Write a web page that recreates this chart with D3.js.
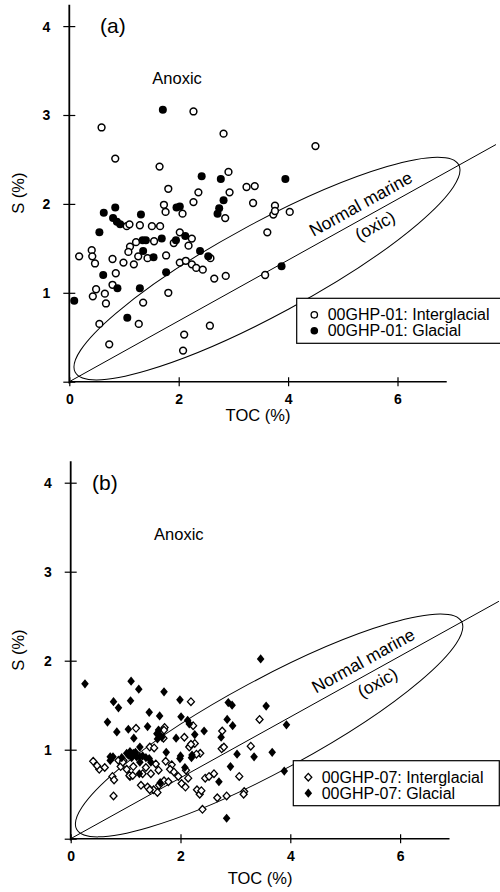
<!DOCTYPE html>
<html><head><meta charset="utf-8">
<script src="https://cdn.jsdelivr.net/npm/d3@7"></script>
<style>body{margin:0;background:#fff}svg{display:block}</style>
</head><body>
<svg id="chart" width="500" height="892"></svg>
<script>
// ---------------- data ----------------
const xTickValues = [0, 2, 4, 6];
const yTickValues = [0, 1, 2, 3, 4];
const xTickLabels = ["0", "2", "4", "6"];
const yTickLabels = ["", "1", "2", "3", "4"];
const xTitle = "TOC (%)";
const yTitle = "S (%)";
const panelNames = ["(a)", "(b)"];
const anoxicText = "Anoxic";
const oxicText = ["Normal marine", "(oxic)"];
const legendA = ["00GHP-01: Interglacial", "00GHP-01: Glacial"];
const legendB = ["00GHP-07: Interglacial", "00GHP-07: Glacial"];
// normal marine line S = ratio * TOC, and oxic ellipse tips (TOC, S)
const normalRatio = 0.342;
const ellipseTips = [[0.108, 0.106], [7.12, 2.44]];

// panel (a) 00GHP-01
const aInterglacial = [
[2.27,3.04],[0.59,2.86],[2.82,2.79],[0.84,2.51],[1.65,2.42],[2.91,2.36],[1.81,2.17],[2.36,2.13],[2.93,2.13],
[3.24,2.19],[3.39,2.20],[2.27,2.02],[1.73,1.99],[1.76,1.91],[2.07,1.89],[3.36,2.01],[3.76,1.98],[3.73,1.88],
[3.76,1.92],[4.03,1.91],[2.85,1.84],[4.50,2.65],
[1.05,1.75],[1.10,1.77],[1.29,1.76],[1.51,1.75],[1.66,1.75],[2.02,1.68],[2.24,1.61],[1.22,1.57],[1.55,1.58],
[1.11,1.52],[1.91,1.56],[2.18,1.53],[0.41,1.48],[0.42,1.41],[0.18,1.41],[1.08,1.46],[1.26,1.41],[1.43,1.39],
[1.77,1.42],[2.58,1.39],[0.47,1.33],[0.79,1.38],[0.99,1.34],[1.18,1.32],[2.02,1.34],[2.13,1.36],[2.24,1.32],
[2.32,1.28],[2.44,1.26],[0.85,1.22],[2.65,1.16],[2.86,1.19],[3.58,1.20],[3.62,1.68],[0.79,1.09],[0.49,1.04],
[0.65,0.99],[0.43,0.96],[1.81,1.00],[0.67,0.88],[1.35,0.89],[0.55,0.65],[1.27,0.65],[2.57,0.63],[2.10,0.53],
[0.73,0.42],[2.08,0.35]];
const aGlacial = [
[1.71,3.06],[2.42,2.31],[2.77,2.28],[3.95,2.28],[2.82,2.04],[0.63,1.90],[0.84,1.96],[1.31,1.88],[1.96,1.96],
[2.02,1.97],[2.74,1.95],[2.71,1.89],[0.80,1.84],[0.87,1.80],[0.93,1.77],[0.55,1.68],[2.12,1.64],[1.69,1.61],
[1.95,1.59],[1.40,1.59],[1.34,1.59],[1.35,1.47],[1.54,1.40],[2.39,1.47],[2.54,1.41],[0.62,1.20],[1.77,1.23],
[0.88,1.05],[1.29,1.05],[0.09,0.91],[1.06,0.72],[3.88,1.30]];

// panel (b) 00GHP-07
const bInterglacial = [
[2.19,1.54],[1.19,1.24],[1.71,1.25],[2.23,1.27],[2.76,1.21],[2.07,1.14],[1.70,1.22],[1.69,1.13],[2.26,1.07],
[2.17,1.04],[1.44,1.03],[3.44,1.34],[3.28,1.04],[2.75,1.01],[2.79,1.03],[1.52,1.02],[2.16,1.03],[2.19,1.06],
[2.36,0.96],[0.41,0.87],[0.52,0.78],[0.62,0.80],[0.87,0.88],[0.96,0.88],[0.91,0.81],[1.02,0.78],[1.08,0.70],
[0.76,0.70],[0.79,0.66],[0.78,0.48],[1.14,0.81],[1.31,0.73],[1.28,0.60],[1.40,0.58],[1.51,0.55],[1.46,0.73],
[1.60,0.77],[1.55,0.84],[1.61,0.60],[1.70,0.65],[1.78,0.64],[1.73,0.87],[1.84,0.83],[1.81,0.78],[1.88,0.75],
[1.96,0.70],[2.10,0.77],[2.14,0.68],[2.02,0.62],[2.29,0.95],[2.09,0.58],[2.45,0.68],[2.52,0.70],[2.61,0.73],
[3.07,0.70],[2.30,0.55],[2.35,0.50],[2.38,0.54],[2.67,0.46],[2.84,0.48],[3.16,0.53],[3.15,0.50],[2.40,0.33],
[1.07,0.71],[1.13,0.71],[1.44,0.55],[1.58,0.52],[0.95,0.86],[1.37,0.80],[0.48,0.82]];
const bGlacial = [
[0.26,1.74],[1.10,1.77],[1.24,1.68],[1.70,1.65],[0.78,1.54],[0.87,1.47],[1.09,1.55],[1.99,1.56],[2.87,1.53],
[2.94,1.50],[3.46,2.02],[3.56,1.49],[0.67,1.31],[1.43,1.42],[1.62,1.38],[2.01,1.37],[2.13,1.33],[2.85,1.34],
[3.93,1.28],[0.84,1.20],[1.05,1.23],[1.40,1.26],[1.15,1.13],[1.57,1.18],[1.60,1.22],[1.63,1.16],[1.58,1.12],
[1.66,1.14],[1.92,1.13],[2.26,1.17],[2.43,1.21],[2.95,1.27],[2.74,1.14],[1.74,0.97],[1.26,1.03],[0.72,0.92],
[0.77,0.92],[0.93,0.91],[1.02,0.96],[1.08,0.98],[1.14,0.96],[1.11,0.91],[1.20,0.92],[1.26,0.92],[1.31,0.93],
[1.37,0.91],[1.43,0.90],[1.46,0.86],[1.26,0.86],[1.99,0.90],[2.20,0.91],[2.21,0.94],[2.00,0.93],[2.08,0.80],
[3.03,0.95],[3.34,0.92],[3.67,0.97],[1.25,0.73],[1.63,0.63],[2.70,0.64],[2.91,0.81],[3.89,0.76],[2.84,0.23],
[2.16,1.29],[0.72,0.88],[1.05,0.94],[1.18,0.97]];

// ---------------- drawing ----------------
const FONT = "'Liberation Sans', Arial, Helvetica, sans-serif";
const svg = d3.select("#chart");
svg.append("rect").attr("width", 500).attr("height", 892).attr("fill", "#fff");

const diamond = (w, h) => `M0,${-h}L${w},0L0,${h}L${-w},0Z`;

function drawPanel(cfg) {
  const x = d3.scaleLinear().domain([0, 6]).range([cfg.x0, cfg.x0 + 6 * cfg.ux]);
  const y = d3.scaleLinear().domain([0, 4]).range([cfg.y0, cfg.y0 - 4 * cfg.uy]);
  const g = svg.append("g").attr("font-family", FONT);

  // axes
  const xAxis = d3.axisBottom(x).tickValues(xTickValues).tickFormat((d, i) => xTickLabels[i]).tickSize(0).tickPadding(0);
  const gx = g.append("g").attr("transform", `translate(0,${y(0)})`).call(xAxis);
  gx.select(".domain").remove();
  gx.selectAll(".tick line").attr("y1", -4.5).attr("y2", 4.5).attr("stroke", "#000").attr("stroke-width", 1.2);
  gx.selectAll(".tick text").attr("y", 22).attr("dy", 0).attr("font-size", 14).attr("font-weight", "bold")
    .attr("font-family", FONT).attr("fill", "#000");

  const yAxis = d3.axisLeft(y).tickValues(yTickValues).tickFormat((d, i) => yTickLabels[i]).tickSize(0).tickPadding(0);
  const gy = g.append("g").attr("transform", `translate(${x(0)},0)`).call(yAxis);
  gy.select(".domain").remove();
  gy.selectAll(".tick line").attr("x1", -6).attr("x2", 6).attr("stroke", "#000").attr("stroke-width", 1.2);
  gy.selectAll(".tick text").attr("x", -19).attr("dy", "0.35em").attr("font-size", 14).attr("font-weight", "bold")
    .attr("font-family", FONT).attr("fill", "#000");

  g.append("line").attr("x1", x(0)).attr("x2", x(6.9)).attr("y1", y(0)).attr("y2", y(0))
    .attr("stroke", "#000").attr("stroke-width", 1.5);
  g.append("line").attr("x1", x(0)).attr("x2", x(0)).attr("y1", y(-0.02)).attr("y2", y(4.24))
    .attr("stroke", "#000").attr("stroke-width", 1.8);

  // axis titles
  g.append("text").attr("x", x(3.45)).attr("y", y(0) + cfg.xTitleGap).attr("text-anchor", "middle")
    .attr("font-size", 16.5).attr("fill", "#000").text(xTitle);
  g.append("text").attr("transform", `translate(24,${y(2.12)}) rotate(-90)`).attr("text-anchor", "middle")
    .attr("font-size", 16.5).attr("fill", "#000").text(yTitle);

  // panel label
  g.append("text").attr("x", cfg.labelX).attr("y", y(4) + 7).attr("font-size", 21).attr("fill", "#000").text(cfg.name);

  // Anoxic
  g.append("text").attr("x", x(1.97)).attr("y", y(3.42) + 6).attr("text-anchor", "middle")
    .attr("font-size", 16.5).attr("fill", "#000").text(anoxicText);

  // normal marine line
  const lineEnd = 7.8;
  g.append("line").attr("x1", x(0)).attr("y1", y(0)).attr("x2", x(lineEnd)).attr("y2", y(lineEnd * normalRatio))
    .attr("stroke", "#000").attr("stroke-width", 1);
  const ang = Math.atan2(y(lineEnd * normalRatio) - y(0), x(lineEnd) - x(0)) * 180 / Math.PI;

  // oxic ellipse
  const p1 = [x(ellipseTips[0][0]), y(ellipseTips[0][1])];
  const p2 = [x(ellipseTips[1][0]), y(ellipseTips[1][1])];
  const ecx = (p1[0] + p2[0]) / 2, ecy = (p1[1] + p2[1]) / 2;
  const ea = Math.hypot(p2[0] - p1[0], p2[1] - p1[1]) / 2;
  const eang = Math.atan2(p2[1] - p1[1], p2[0] - p1[0]) * 180 / Math.PI;
  g.append("ellipse").attr("transform", `translate(${ecx},${ecy}) rotate(${eang})`)
    .attr("rx", ea).attr("ry", 46).attr("fill", "none").attr("stroke", "#000").attr("stroke-width", 1);

  const tg = g.append("g").attr("transform", `translate(${x(5.38)},${y(1.94)}) rotate(${ang})`);
  tg.append("text").attr("text-anchor", "middle").attr("font-size", 17.5).attr("fill", "#000").text(oxicText[0]);
  tg.append("text").attr("x", 2).attr("y", 26).attr("text-anchor", "middle").attr("font-size", 17.5).attr("fill", "#000").text(oxicText[1]);

  // points
  const pts = g.append("g");
  if (cfg.shape === "circle") {
    pts.selectAll("circle.o").data(cfg.open).join("circle").attr("class", "o")
      .attr("cx", d => x(d[0])).attr("cy", d => y(d[1])).attr("r", 3.4)
      .attr("fill", "#fff").attr("stroke", "#000").attr("stroke-width", 1.5);
    pts.selectAll("circle.f").data(cfg.filled).join("circle").attr("class", "f")
      .attr("cx", d => x(d[0])).attr("cy", d => y(d[1])).attr("r", 4)
      .attr("fill", "#000");
  } else {
    pts.selectAll("path.o").data(cfg.open).join("path").attr("class", "o")
      .attr("transform", d => `translate(${x(d[0])},${y(d[1])})`).attr("d", diamond(3.5, 3.8))
      .attr("fill", "#fff").attr("stroke", "#000").attr("stroke-width", 1.3);
    pts.selectAll("path.f").data(cfg.filled).join("path").attr("class", "f")
      .attr("transform", d => `translate(${x(d[0])},${y(d[1])})`).attr("d", diamond(3.8, 4.6))
      .attr("fill", "#000");
  }

  // legend
  const lg = g.append("g").attr("transform", `translate(${cfg.legX},${cfg.legY})`);
  lg.append("rect").attr("x", 0).attr("y", 0).attr("width", cfg.legW).attr("height", 45)
    .attr("fill", "#fff").attr("stroke", "#000").attr("stroke-width", 1.2);
  cfg.legend.forEach((t, i) => {
    const cy = 16.5 + i * 16;
    const mx = cfg.legMarkerX;
    if (cfg.shape === "circle") {
      if (i === 0) lg.append("circle").attr("cx", mx).attr("cy", cy).attr("r", 3.2).attr("fill", "#fff").attr("stroke", "#000").attr("stroke-width", 1.3);
      else lg.append("circle").attr("cx", mx).attr("cy", cy).attr("r", 3.8).attr("fill", "#000");
    } else {
      if (i === 0) lg.append("path").attr("transform", `translate(${mx},${cy})`).attr("d", diamond(3.5, 3.8)).attr("fill", "#fff").attr("stroke", "#000").attr("stroke-width", 1.3);
      else lg.append("path").attr("transform", `translate(${mx},${cy})`).attr("d", diamond(3.8, 4.6)).attr("fill", "#000");
    }
    lg.append("text").attr("x", cfg.legTextX).attr("y", cy + 5.5).attr("font-size", 16).attr("fill", "#000").text(t);
  });
}

drawPanel({ name: panelNames[0], x0: 69.3, ux: 54.7, y0: 381.7, uy: 88.9, labelX: 100, xTitleGap: 39,
  shape: "circle", open: aInterglacial, filled: aGlacial, legend: legendA,
  legX: 296.7, legY: 298.3, legW: 210, legMarkerX: 17.6, legTextX: 31 });
drawPanel({ name: panelNames[1], x0: 70.7, ux: 54.9, y0: 838.7, uy: 89, labelX: 92, xTitleGap: 45,
  shape: "diamond", open: bInterglacial, filled: bGlacial, legend: legendB,
  legX: 293.3, legY: 760.7, legW: 206, legMarkerX: 15, legTextX: 28.4 });
</script>
</body></html>
